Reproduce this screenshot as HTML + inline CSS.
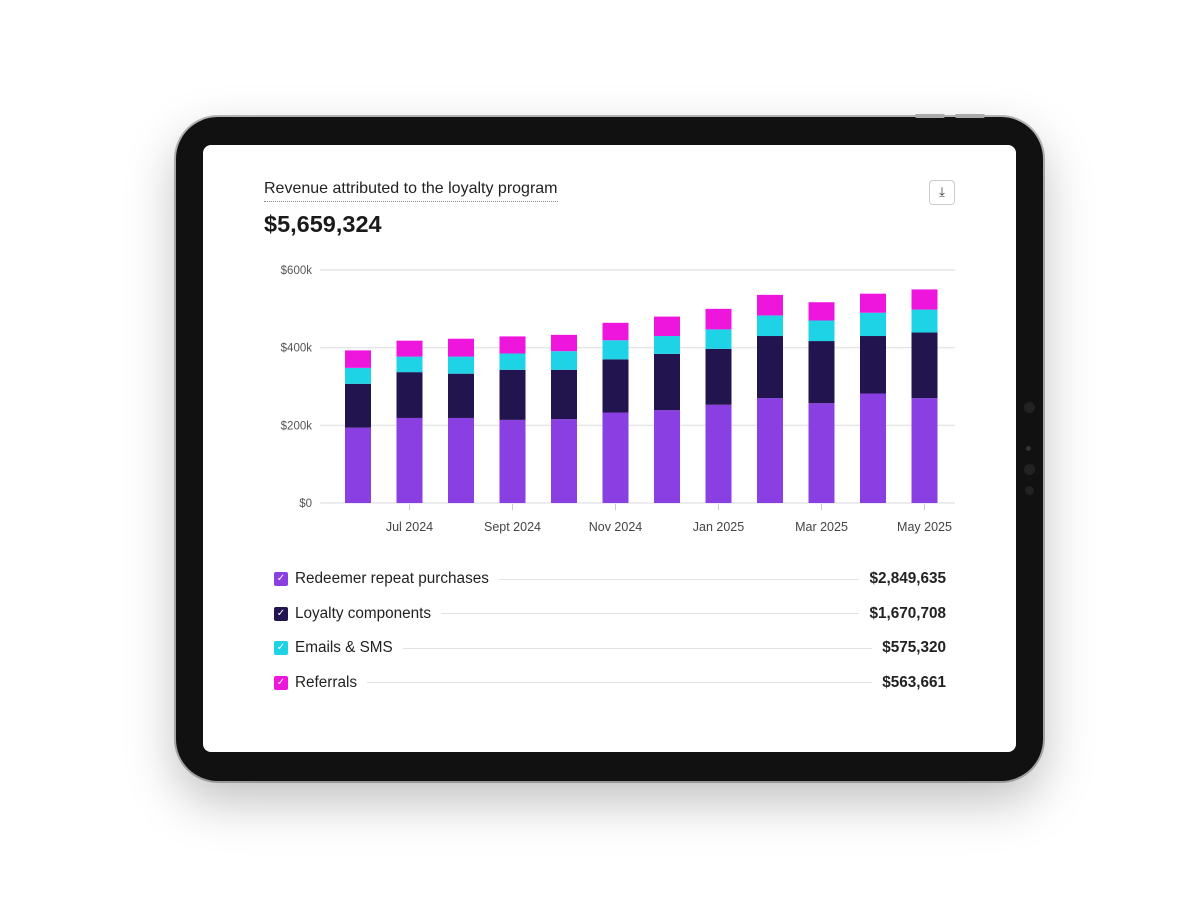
<!DOCTYPE html>
<html><head><meta charset="utf-8"><style>
body{margin:0;width:1200px;height:900px;background:#fff;position:relative;overflow:hidden;font-family:"Liberation Sans",sans-serif}
.abs{position:absolute}
.row{display:flex;align-items:center;height:34.5px;font-size:15.3px;color:#222}
.cb{width:14px;height:14px;border-radius:2px;color:#fff;font-size:10px;text-align:center;line-height:14px;margin-right:7px}
.sep{flex:1;border-top:1px solid #e2e2e2;margin:0 10px}
</style></head><body>
<div class="abs" style="left:176px;top:117px;width:867px;height:664px;background:#111;border-radius:42px;box-shadow:0 20px 50px rgba(0,0,0,0.25),0 0 0 2px #bbb"></div>
<div class="abs" style="left:915px;top:114px;width:30px;height:4px;background:#aaa;border-radius:2px"></div>
<div class="abs" style="left:955px;top:114px;width:30px;height:4px;background:#aaa;border-radius:2px"></div>
<div class="abs" style="left:1024px;top:402px;width:11px;height:11px;background:#222;border-radius:50%"></div>
<div class="abs" style="left:1026px;top:446px;width:5px;height:5px;background:#333;border-radius:50%"></div>
<div class="abs" style="left:1024px;top:464px;width:11px;height:11px;background:#222;border-radius:50%"></div>
<div class="abs" style="left:1025px;top:486px;width:9px;height:9px;background:#222;border-radius:50%"></div>
<div class="abs" style="left:203px;top:145px;width:813px;height:607px;background:#fff;border-radius:8px"></div>
<div class="abs" style="left:264px;top:180px;font-size:16px;color:#222;border-bottom:1px dotted #888;padding-bottom:3px">Revenue attributed to the loyalty program</div>
<div class="abs" style="left:264px;top:211px;font-size:23.5px;font-weight:bold;color:#1a1a1a">$5,659,324</div>
<div class="abs" style="left:929px;top:180px;width:24px;height:23px;border:1px solid #ccc;border-radius:4px;text-align:center;font-size:13px;line-height:22px;color:#333">⤓</div>
<svg class="abs" style="left:0;top:0" width="1200" height="900" id="chart"></svg>
<script>
const categories=["Jun 2024","Jul 2024","Aug 2024","Sept 2024","Oct 2024","Nov 2024","Dec 2024","Jan 2025","Feb 2025","Mar 2025","Apr 2025","May 2025"];
const redeemer=[194,219,219,214,216,233,239,253,270,257,282,270];
const loyalty=[113,118,114,129,127,137,145,144,160,160,148,169];
const emails=[41,40,44,42,48,49,46,50,53,53,60,59];
const referrals=[45,41,46,44,42,45,50,53,53,47,49,52];
const yTicks=[0,200,400,600];
const yTickLabels=["$0","$200k","$400k","$600k"];
const xLabelIdx=[1,3,5,7,9,11];
const series=[redeemer,loyalty,emails,referrals];
const colors=["#8a3fe3","#22144f","#1fd3e6","#ee16dc"];
const names=["redeemer","loyalty","emails","referrals"];
const svg=document.getElementById('chart');const NS="http://www.w3.org/2000/svg";
const y=v=>503-v*(233/600);
const x=i=>345+i*51.5;
const bw=26;
function mk(t,a){const e=document.createElementNS(NS,t);for(const k in a)e.setAttribute(k,a[k]);svg.appendChild(e);return e;}
yTicks.forEach((t,i)=>{
 const l=mk('line',{x1:320,x2:955,y1:y(t),y2:y(t),stroke:'#e6e6ea','stroke-width':1.5});
 
 
 const tx=mk('text',{x:312,y:y(t)+4,'text-anchor':'end','font-size':11.5,fill:'#555'});tx.textContent=yTickLabels[i];
 
 
});
categories.forEach((c,i)=>{
 let base=0;
 series.forEach((s,k)=>{
  const r=mk('rect',{x:x(i),y:y(base+s[i]),width:bw,height:y(base)-y(base+s[i]),fill:colors[k]});
  
  
  base+=s[i];
 });
});
xLabelIdx.forEach(i=>{
 const cx=x(i)+bw/2;
 const t=mk('line',{x1:cx,x2:cx,y1:504,y2:510,stroke:'#ccc'});
 
 
 const tx=mk('text',{x:cx,y:531,'text-anchor':'middle','font-size':12.5,fill:'#444'});tx.textContent=categories[i];
 
 
});
</script>
<div class="abs" style="left:274px;top:562px;width:672px">
 <div class="row"><span class="cb" style="background:#8a3fe3">✓</span>Redeemer repeat purchases<span class="sep"></span><b>$2,849,635</b></div>
 <div class="row"><span class="cb" style="background:#22144f">✓</span>Loyalty components<span class="sep"></span><b>$1,670,708</b></div>
 <div class="row"><span class="cb" style="background:#1fd3e6">✓</span>Emails &amp; SMS<span class="sep"></span><b>$575,320</b></div>
 <div class="row"><span class="cb" style="background:#ee16dc">✓</span>Referrals<span class="sep"></span><b>$563,661</b></div>
</div>
</body></html>
